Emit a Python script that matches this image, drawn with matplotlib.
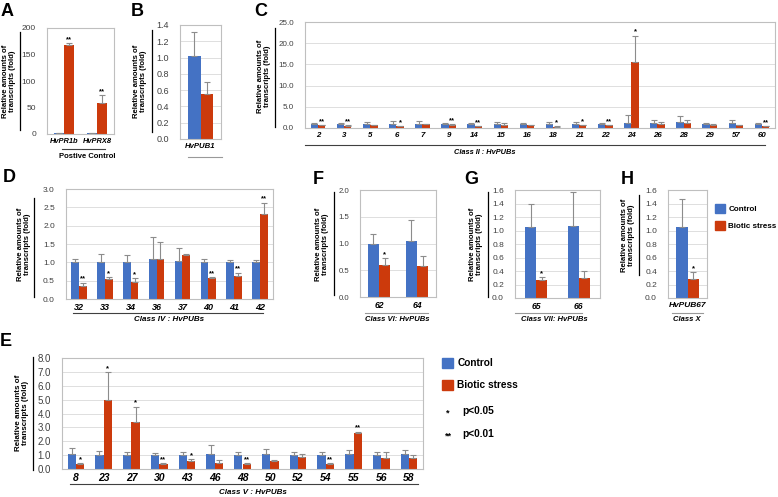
import matplotlib
matplotlib.use('Agg')
import matplotlib.pyplot as plt
from matplotlib.lines import Line2D
from matplotlib.patches import Patch
import numpy as np

plt.rcParams['font.family'] = ['Liberation Sans', 'DejaVu Sans']

W, H = 778, 497
BLUE = '#4472C4'
RED = '#CC3A0C'
ERR = '#8C8C8C'

### data (control / biotic stress, upper error)
a_genes = ['HvPR1b', 'HvPRX8']
a_ctrl = [1.0, 1.0]
a_ctrl_err = [0.5, 0.5]
a_bio = [168.0, 58.0]
a_bio_err = [4.0, 15.0]
a_sig = ['**', '**']

b_genes = ['HvPUB1']
b_ctrl = [1.02]
b_ctrl_err = [0.30]
b_bio = [0.55]
b_bio_err = [0.15]
b_sig = ['']

c_genes = ['2', '3', '5', '6', '7', '9', '14', '15', '16', '18', '21', '22', '24', '26', '28', '29', '57', '60']
c_ctrl = [1.0, 1.0, 1.0, 1.0, 1.0, 1.0, 1.0, 1.0, 1.0, 1.0, 1.0, 1.0, 1.2, 1.2, 1.4, 0.9, 1.1, 0.9]
c_ctrl_err = [0.1, 0.2, 0.3, 0.6, 0.6, 0.1, 0.1, 0.5, 0.2, 0.5, 0.3, 0.1, 1.8, 0.7, 1.5, 0.2, 0.9, 0.2]
c_bio = [0.6, 0.5, 0.7, 0.4, 0.9, 0.8, 0.4, 0.8, 0.7, 0.3, 0.6, 0.6, 15.6, 0.9, 1.2, 0.7, 0.6, 0.4]
c_bio_err = [0.1, 0.1, 0.1, 0.1, 0.1, 0.1, 0.1, 0.4, 0.1, 0.1, 0.1, 0.1, 6.2, 0.5, 0.8, 0.3, 0.1, 0.1]
c_sig = ['**', '**', '', '*', '', '**', '**', '', '', '*', '*', '**', '*', '', '', '', '', '**']

d_genes = ['32', '33', '34', '36', '37', '40', '41', '42']
d_ctrl = [1.0, 1.0, 1.0, 1.1, 1.04, 1.0, 1.0, 1.0]
d_ctrl_err = [0.1, 0.24, 0.2, 0.58, 0.34, 0.09, 0.07, 0.06]
d_bio = [0.35, 0.54, 0.47, 1.1, 1.19, 0.57, 0.64, 2.33]
d_bio_err = [0.1, 0.06, 0.1, 0.45, 0.05, 0.03, 0.08, 0.3]
d_sig = ['**', '*', '*', '', '', '**', '**', '**']

e_genes = ['8', '23', '27', '30', '43', '46', '48', '50', '52', '54', '55', '56', '58']
e_ctrl = [1.07, 1.02, 1.02, 1.02, 1.02, 1.1, 1.02, 1.07, 1.02, 1.02, 1.07, 1.02, 1.05]
e_ctrl_err = [0.45, 0.28, 0.18, 0.13, 0.18, 0.65, 0.23, 0.38, 0.23, 0.23, 0.33, 0.23, 0.3]
e_bio = [0.33, 5.0, 3.4, 0.35, 0.58, 0.42, 0.35, 0.57, 0.9, 0.38, 2.6, 0.8, 0.8]
e_bio_err = [0.1, 2.0, 1.1, 0.1, 0.12, 0.23, 0.1, 0.05, 0.15, 0.07, 0.1, 0.45, 0.2]
e_sig = ['*', '*', '*', '**', '*', '', '**', '', '', '**', '**', '', '']

f_genes = ['62', '64']
f_ctrl = [1.0, 1.05]
f_ctrl_err = [0.18, 0.38]
f_bio = [0.6, 0.58]
f_bio_err = [0.12, 0.18]
f_sig = ['*', '']

g_genes = ['65', '66']
g_ctrl = [1.05, 1.07]
g_ctrl_err = [0.35, 0.5]
g_bio = [0.26, 0.29]
g_bio_err = [0.05, 0.11]
g_sig = ['*', '']

h_genes = ['HvPUB67']
h_ctrl = [1.05]
h_ctrl_err = [0.41]
h_bio = [0.28]
h_bio_err = [0.1]
h_sig = ['*']

fig = plt.figure(figsize=(W / 100, H / 100), dpi=100)


def fx(x):
    return x / W


def fy(y):
    return 1 - y / H


def vline(x, y1, y2, color='black'):
    fig.add_artist(Line2D([fx(x), fx(x)], [fy(y1), fy(y2)], color=color, lw=0.9))


def hline(x1, x2, y, color='#404040'):
    fig.add_artist(Line2D([fx(x1), fx(x2)], [fy(y), fy(y)], color=color, lw=0.8))


def panel(box, genes, ctrl, ctrl_err, bio, bio_err, sig, ymax, step, fmt,
          tsize, csize, grid=True, width=0.3):
    l, t, r, b = box
    ax = fig.add_axes([fx(l), fy(b), (r - l) / W, (b - t) / H])
    x = np.arange(len(genes))
    ekw = dict(ecolor=ERR, elinewidth=0.8, capsize=2, capthick=0.8)
    ax.bar(x - width / 2, ctrl, width, color=BLUE,
           yerr=[np.zeros(len(x)), ctrl_err], error_kw=ekw)
    ax.bar(x + width / 2, bio, width, color=RED,
           yerr=[np.zeros(len(x)), bio_err], error_kw=ekw)
    for xi, v, e, s in zip(x, bio, bio_err, sig):
        if s:
            ax.annotate(s, (xi + width / 2, v + e), xytext=(0, 0),
                        textcoords='offset points', ha='center', va='bottom',
                        fontsize=5.5, fontweight='bold')
    ax.set_xlim(-0.5, len(genes) - 0.5)
    ax.set_ylim(0, ymax)
    ticks = np.arange(0, ymax + step / 2, step)
    ax.set_yticks(ticks)
    ax.set_yticklabels([fmt.format(v) for v in ticks], fontsize=tsize, color='#404040')
    ax.set_xticks(x)
    ax.set_xticklabels(genes, fontsize=csize, fontweight='bold', fontstyle='italic')
    ax.tick_params(axis='y', length=0, pad=8)
    ax.tick_params(axis='x', length=0, pad=3)
    for sp in ax.spines.values():
        sp.set_color('#BFBFBF')
        sp.set_linewidth(0.8)
    if grid:
        ax.yaxis.grid(True, color='#D9D9D9', lw=0.6)
        ax.set_axisbelow(True)
    return ax


def ylab(x, y, line_x, y1, y2, size=5.6):
    fig.text(fx(x), fy(y), 'Relative amounts of\ntranscripts (fold)', rotation=90,
             ha='center', va='center', fontsize=size, fontweight='bold', linespacing=1.0)
    vline(line_x, y1, y2)


def letter(s, x, y):
    fig.text(fx(x), fy(y), s, ha='center', va='center', fontsize=13, fontweight='bold')


### A
panel((47, 28, 114, 134), a_genes, a_ctrl, a_ctrl_err, a_bio, a_bio_err, a_sig,
      200, 50, '{:.0f}', 6, 5.4, grid=False)
ylab(9, 81, 20, 32, 130)
hline(62, 105, 149)
fig.text(fx(87), fy(157), 'Postive Control', ha='center', va='center', fontsize=5.5, fontweight='bold')
letter('A', 7, 11)

### B
panel((180, 25, 221, 139), b_genes, b_ctrl, b_ctrl_err, b_bio, b_bio_err, b_sig,
      1.4, 0.2, '{:.1f}', 6.5, 5.6)
ylab(140, 81, 152, 30, 132)
hline(188, 222, 157, '#999999')
letter('B', 137, 11)

### C
panel((305, 22, 775, 128), c_genes, c_ctrl, c_ctrl_err, c_bio, c_bio_err, c_sig,
      25, 5, '{:.1f}', 5.8, 5.7, width=0.28)
ylab(264, 76, 275, 28, 127)
hline(305, 765, 145)
fig.text(fx(485), fy(152), 'Class II : HvPUBs', ha='center', va='center', fontsize=5.3,
         fontweight='bold', fontstyle='italic')
letter('C', 261, 11)

### D
panel((66, 189, 273, 299), d_genes, d_ctrl, d_ctrl_err, d_bio, d_bio_err, d_sig,
      3.0, 0.5, '{:.1f}', 6, 6.5)
ylab(24, 244, 34, 198, 297)
hline(73, 263, 313)
fig.text(fx(169), fy(319.5), 'Class IV : HvPUBs', ha='center', va='center', fontsize=5.8,
         fontweight='bold', fontstyle='italic')
letter('D', 9, 178)

### F
panel((360, 190, 436, 297), f_genes, f_ctrl, f_ctrl_err, f_bio, f_bio_err, f_sig,
      2.0, 0.5, '{:.1f}', 5.6, 6.2)
ylab(322, 244, 334, 192, 295)
hline(365, 428, 313, '#999999')
fig.text(fx(397), fy(319.5), 'Class VI: HvPUBs', ha='center', va='center', fontsize=5.5,
         fontweight='bold', fontstyle='italic')
letter('F', 318, 180)

### G
panel((515, 190, 600, 298), g_genes, g_ctrl, g_ctrl_err, g_bio, g_bio_err, g_sig,
      1.6, 0.2, '{:.1f}', 6, 6.2, width=0.26)
ylab(476, 244, 488, 192, 297)
hline(515, 582, 313, '#999999')
fig.text(fx(554), fy(319.5), 'Class VII: HvPUBs', ha='center', va='center', fontsize=5.5,
         fontweight='bold', fontstyle='italic')
letter('G', 471, 180)

### H
panel((668, 190, 707, 298), h_genes, h_ctrl, h_ctrl_err, h_bio, h_bio_err, h_sig,
      1.6, 0.2, '{:.1f}', 6, 6)
ylab(628, 235, 639, 195, 275)
hline(672, 703, 313, '#999999')
fig.text(fx(687), fy(319.5), 'Class X', ha='center', va='center', fontsize=5.5,
         fontweight='bold', fontstyle='italic')
letter('H', 627, 180)

### E
panel((62, 358, 423, 469), e_genes, e_ctrl, e_ctrl_err, e_bio, e_bio_err, e_sig,
      8.0, 1.0, '{:.1f}', 7, 7.5)
ylab(22, 413, 33, 357, 470, size=5.8)
hline(70, 418, 484)
fig.text(fx(253), fy(492), 'Class V : HvPUBs', ha='center', va='center', fontsize=5.8,
         fontweight='bold', fontstyle='italic')
letter('E', 6, 342)

### legends
handles = [Patch(color=BLUE), Patch(color=RED)]
labels = ['Control', 'Biotic stress']
fig.legend(handles, labels, loc='upper left', bbox_to_anchor=(fx(715), fy(204)),
           frameon=False, borderpad=0, borderaxespad=0, handlelength=1.25,
           handleheight=1.25, handletextpad=0.4, labelspacing=1.0,
           prop=dict(size=5.8, weight='bold'))
fig.legend(handles, labels, loc='upper left', bbox_to_anchor=(fx(442), fy(358)),
           frameon=False, borderpad=0, borderaxespad=0, handlelength=1.1,
           handleheight=1.15, handletextpad=0.4, labelspacing=1.1,
           prop=dict(size=7.3, weight='bold'))
for star, txt, y in [('*', 'p<0.05', 411), ('**', 'p<0.01', 434)]:
    fig.text(fx(448), fy(y + 2), star, ha='center', va='center', fontsize=6.5, fontweight='bold')
    fig.text(fx(462), fy(y), txt, ha='left', va='center', fontsize=7.3, fontweight='bold')

fig.savefig('out.png', dpi=100)
